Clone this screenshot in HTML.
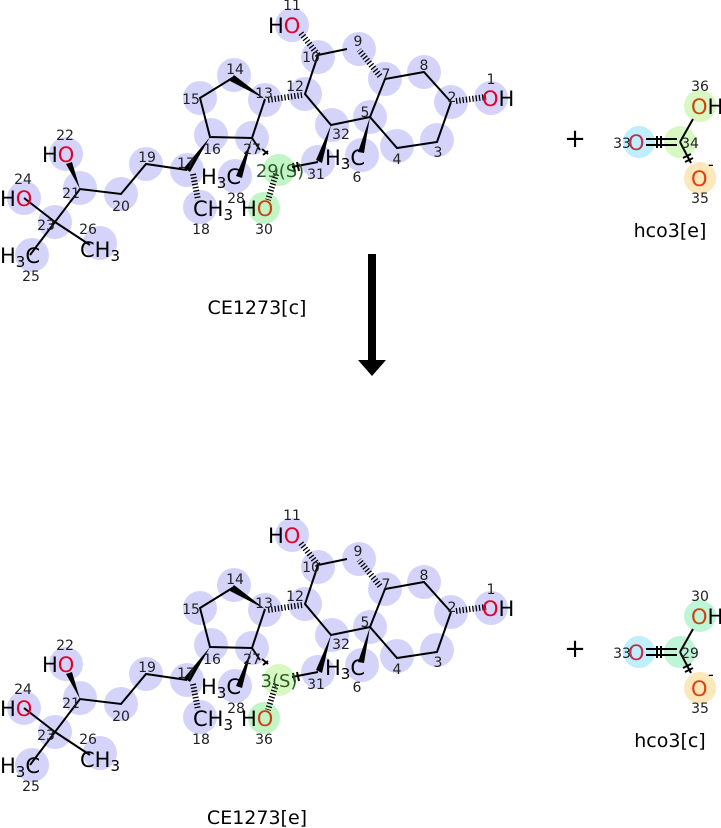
<!DOCTYPE html>
<html><head><meta charset="utf-8"><style>
html,body{margin:0;padding:0;background:#fff;}
svg{display:block;font-family:"DejaVu Sans","Liberation Sans",sans-serif;}
.n{font-size:14px;fill:#222;text-anchor:middle;}
.a{font-size:21px;fill:#000;}
.o{fill:#e0002a;}
.b{stroke:#000;stroke-width:2;fill:none;}
.h{stroke:#000;stroke-width:6;stroke-dasharray:1.3 2;fill:none;}
.c{fill:#d4d4fa;}
</style></head><body>
<svg width="721" height="828" viewBox="0 0 721 828">
<defs>
<g id="mol">
 <g class="c">
  <circle cx="491" cy="98" r="17"/><circle cx="451" cy="102" r="17"/><circle cx="437" cy="140" r="17"/>
  <circle cx="397" cy="146" r="17"/><circle cx="370" cy="117" r="17"/><circle cx="362" cy="155" r="17"/>
  <circle cx="385" cy="79" r="17"/><circle cx="424" cy="72" r="17"/><circle cx="359" cy="49" r="17"/>
  <circle cx="318" cy="57" r="17"/><circle cx="292" cy="25" r="17"/><circle cx="305" cy="94" r="17"/>
  <circle cx="265" cy="100" r="17"/><circle cx="234" cy="75" r="17"/><circle cx="200" cy="98" r="17"/>
  <circle cx="211" cy="135" r="17"/><circle cx="187" cy="170" r="17"/><circle cx="200" cy="207" r="17"/>
  <circle cx="146" cy="164" r="17"/><circle cx="121" cy="194" r="17"/><circle cx="80" cy="188" r="17"/>
  <circle cx="66" cy="154" r="17"/><circle cx="55" cy="222" r="17"/><circle cx="24" cy="198" r="17"/>
  <circle cx="32" cy="255" r="17"/><circle cx="100" cy="243" r="17"/><circle cx="252" cy="138" r="17"/>
  <circle cx="235" cy="176" r="17"/><circle cx="318" cy="162" r="17"/><circle cx="332" cy="125" r="17"/>
 </g>
 <path class="b" d="M451,102 L424,72 L385,79 L370,117 L397,148 L437,142 L451,102 M370,117 L331,125 L305,94 L318,55 L347,49 M265,99 L252,138 L210,137 L200,98 L234,77 M187,170 L146,164 L121,194 L80,189 L55,222 L24,198 M55,222 L30,255 M55,222 L90,245 M252,138 L260,150 M292,167 L318,162"/>
 <path class="h" d="M456,101 L486,97 M380,76 L359,50 M318,55 L300,32 M302,95 L268,100 M193,174 L198,200 M276,174 L268,200"/>
 <polygon points="265,99 234,75 230,81" fill="#000"/>
 <polygon points="252,138 236,176 242,178" fill="#000"/>
 <polygon points="210,137 184,168 190,172" fill="#000"/>
 <polygon points="80,189 66,164 72,162" fill="#000"/>
 <polygon points="370,117 358,152 364,153" fill="#000"/>
 <polygon points="331,125 316,160 322,163" fill="#000"/>
 <path class="b" d="M262,149 L268,154 M263,155 L268,151 M293,163 L295,172 M297,162 L299,171"/>
 <text class="a" x="482" y="106"><tspan class="o">O</tspan>H</text>
 <text class="a" x="268" y="33">H<tspan class="o">O</tspan></text>
 <text class="a" x="42" y="162">H<tspan class="o">O</tspan></text>
 <text class="a" x="0" y="206">H<tspan class="o">O</tspan></text>
 <text class="a" x="0" y="263">H<tspan font-size="15" dy="4">3</tspan><tspan dy="-4">C</tspan></text>
 <text class="a" x="80" y="257">CH<tspan font-size="15" dy="4">3</tspan></text>
 <text class="a" x="193" y="216">CH<tspan font-size="15" dy="4">3</tspan></text>
 <text class="a" x="201" y="184">H<tspan font-size="15" dy="4">3</tspan><tspan dy="-4">C</tspan></text>
 <text class="a" x="325" y="165">H<tspan font-size="15" dy="4">3</tspan><tspan dy="-4">C</tspan></text>
 <g class="n">
  <text x="491" y="84">1</text><text x="452" y="102">2</text><text x="438" y="157">3</text><text x="397" y="164">4</text>
  <text x="365" y="117">5</text><text x="357" y="182">6</text><text x="386" y="79">7</text><text x="424" y="70">8</text>
  <text x="358" y="46">9</text><text x="311" y="62">10</text><text x="292" y="10">11</text><text x="295" y="91">12</text>
  <text x="264" y="98">13</text><text x="235" y="74">14</text><text x="191" y="104">15</text><text x="212" y="154">16</text>
  <text x="186" y="168">17</text><text x="201" y="234">18</text><text x="147" y="162">19</text><text x="121" y="211">20</text>
  <text x="71" y="198">21</text><text x="65" y="140">22</text><text x="46" y="230">23</text><text x="23" y="184">24</text>
  <text x="31" y="281">25</text><text x="88" y="234">26</text><text x="252" y="154">27</text><text x="236" y="203">28</text>
  <text x="316" y="179">31</text><text x="341" y="139">32</text>
 </g>
</g>
</defs>

<circle cx="279" cy="170" r="16" fill="#c2f5c6"/>
<circle cx="264" cy="208" r="16" fill="#c2f5c6"/>
<use href="#mol"/>
<text x="280" y="177" font-size="18" text-anchor="middle" fill="#2a5a2a">29(S)</text>
<text class="a" x="241" y="216">H<tspan fill="#d04010">O</tspan></text>
<text class="n" x="264" y="234">30</text>
<text x="257" y="314" font-size="19" text-anchor="middle">CE1273[c]</text>

<text x="575" y="147" font-size="26" text-anchor="middle">+</text>
<circle cx="639" cy="142" r="16" fill="#bfeefc"/>
<circle cx="680" cy="142" r="16" fill="#d8f8c2"/>
<circle cx="700" cy="106" r="16" fill="#d8f8c2"/>
<circle cx="700" cy="178" r="16" fill="#fde8bc"/>
<path class="b" d="M646,139 L677,139 M646,145 L677,145 M680,142 L693,119 M680,142 L691,163 M657,136 L657,148 M661,136 L661,148 M683,158 L691,154 M685,162 L693,158"/>
<text class="n" x="622" y="148">33</text>
<text x="628" y="150" font-size="21" fill="#c03050">O</text>
<text class="n" x="690" y="148">34</text>
<text class="n" x="700" y="91">36</text>
<text class="a" x="691" y="114"><tspan fill="#d04010">O</tspan>H</text>
<text x="691" y="186" font-size="21" fill="#e04010">O</text><text x="708" y="170" font-size="16">-</text>
<text class="n" x="700" y="203">35</text>
<text x="670" y="237" font-size="19" text-anchor="middle">hco3[e]</text>

<rect x="368" y="254" width="8" height="108" fill="#000"/>
<polygon points="358,360 386,360 372,376" fill="#000"/>

<g transform="translate(0,510)">
<circle cx="279" cy="170" r="16" fill="#d8f8c2"/>
<circle cx="264" cy="208" r="16" fill="#c2f5c6"/>
<use href="#mol"/>
<text x="279" y="177" font-size="18" text-anchor="middle" fill="#2a5a2a">3(S)</text>
<text class="a" x="241" y="216">H<tspan fill="#d04010">O</tspan></text>
<text class="n" x="264" y="234">36</text>
<text x="257" y="314" font-size="19" text-anchor="middle">CE1273[e]</text>

<text x="575" y="147" font-size="26" text-anchor="middle">+</text>
<circle cx="639" cy="142" r="16" fill="#bfeefc"/>
<circle cx="680" cy="142" r="16" fill="#bdf5d6"/>
<circle cx="700" cy="106" r="16" fill="#bdf5d6"/>
<circle cx="700" cy="178" r="16" fill="#fde8bc"/>
<path class="b" d="M646,139 L677,139 M646,145 L677,145 M680,142 L693,119 M680,142 L691,163 M657,136 L657,148 M661,136 L661,148 M683,158 L691,154 M685,162 L693,158"/>
<text class="n" x="622" y="148">33</text>
<text x="628" y="150" font-size="21" fill="#c03050">O</text>
<text class="n" x="690" y="148">29</text>
<text class="n" x="700" y="91">30</text>
<text class="a" x="691" y="114"><tspan fill="#d04010">O</tspan>H</text>
<text x="691" y="186" font-size="21" fill="#e04010">O</text><text x="708" y="170" font-size="16">-</text>
<text class="n" x="700" y="203">35</text>
<text x="670" y="237" font-size="19" text-anchor="middle">hco3[c]</text>
</g>
</svg>
</body></html>
